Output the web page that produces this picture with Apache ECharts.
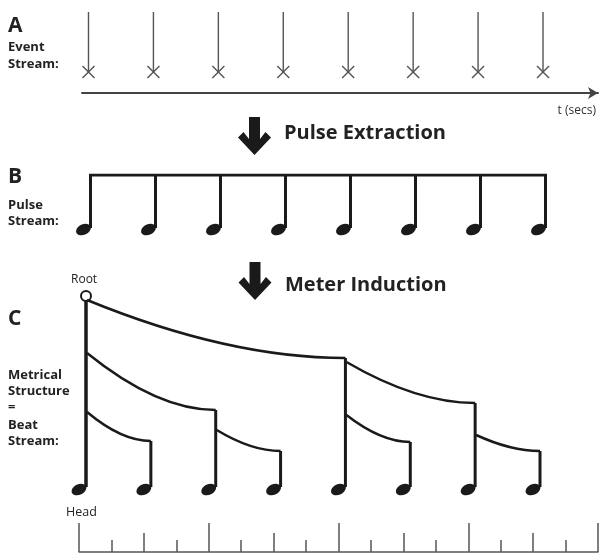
<!DOCTYPE html>
<html>
<head>
<meta charset="utf-8">
<script src="https://cdn.jsdelivr.net/npm/echarts@6/dist/echarts.min.js"></script>
<style>
html,body{margin:0;padding:0;background:#fff;}
#chart{width:605px;height:554px;}
</style>
</head>
<body>
<div id="chart"></div>
<script>
// ---------------- data ----------------
// A: detected event onsets (in beat units)
const eventTimes = [0, 1, 2, 3, 4, 5, 6, 7];
// B: extracted pulse positions (beat units)
const pulseTimes = [0, 1, 2, 3, 4, 5, 6, 7];
// C: metrical tree – beat positions, parent beat, stem-top height, branch height on parent stem
const beatTimes    = [0, 1, 2, 3, 4, 5, 6, 7];
const beatParent   = [null, 0, 0, 2, 0, 4, 4, 6];
const beatStemTop  = [191, 46, 77, 36, 129, 45, 84, 36];
const beatBranchAt = [null, 75, 134, 57, 187, 72, 125, 52];
// bottom ruler: tick intervals in beats (long, medium, short)
const rulerIntervals = [2, 1, 0.5];
const rulerTickLengths = [29, 19, 12];
const rulerRange = [0, 8];

const INK = '#1a1a1a';
const GREY = '#555';
const FONT = 'Open Sans';

const chart = echarts.init(document.getElementById('chart'), null, {renderer: 'canvas'});

function noteHead(x, y) {
  return {type: 'ellipse', x: x - 5.5, y: y + 1.5, rotation: 0.45,
          shape: {cx: 0, cy: 0, rx: 7.8, ry: 5.3}, style: {fill: INK}};
}

const rulerAxes = rulerIntervals.map((iv, i) => ({
  gridIndex: 3, type: 'value', position: 'bottom', min: rulerRange[0], max: rulerRange[1], interval: iv,
  axisLine: {show: i === 0, onZero: false, lineStyle: {color: GREY, width: 1.5}},
  axisTick: {show: true, inside: true, length: rulerTickLengths[i], lineStyle: {color: GREY, width: 1.5}},
  axisLabel: {show: false}, splitLine: {show: false}
}));

const txt = (text, x, y, size, weight, extra) => Object.assign({
  type: 'text', x: x, y: y,
  style: {text: text, fill: '#222', font: (weight || 'bold') + ' ' + size + 'px "' + FONT + '"',
          textVerticalAlign: 'middle'}
}, extra || {});

function bigArrow(cx, y0, tip) {
  return {type: 'polygon', shape: {points: [
    [cx - 5.5, y0], [cx + 5.5, y0], [cx + 5.5, tip - 16], [cx + 11, tip - 23], [cx + 16.5, tip - 17.5],
    [cx, tip], [cx - 16.5, tip - 17.5], [cx - 11, tip - 23], [cx - 5.5, tip - 16]
  ]}, style: {fill: INK}};
}

const option = {
  animation: false,
  backgroundColor: '#fff',
  grid: [
    {left: 82, right: 7, top: 12, height: 60},
    {left: 90.5, right: 59.5, top: 175, height: 53},
    {left: 86, right: 65, top: 296, height: 191},
    {left: 79, right: 7, top: 523, height: 29}
  ],
  xAxis: [
    {gridIndex: 0, type: 'value', min: -0.1, max: 7.847, offset: 21, position: 'bottom',
     axisLine: {show: true, onZero: false, symbol: ['none', 'arrow'], symbolSize: [9, 10], symbolOffset: [0, 0],
                lineStyle: {color: '#444', width: 2}},
     axisTick: {show: false}, axisLabel: {show: false}, splitLine: {show: false},
     name: 't (secs)', nameLocation: 'end', nameGap: -2,
     nameTextStyle: {align: 'right', verticalAlign: 'top', padding: [12, 0, 0, 0],
                     fontFamily: FONT, fontSize: 12, color: '#333'}},
    {gridIndex: 1, type: 'value', min: 0, max: 7, show: false},
    {gridIndex: 2, type: 'value', min: 0, max: 7, show: false}
  ].concat(rulerAxes),
  yAxis: [
    {gridIndex: 0, type: 'value', min: 0, max: 1, show: false},
    {gridIndex: 1, type: 'value', min: 0, max: 1, show: false},
    {gridIndex: 2, type: 'value', min: 0, max: 191, show: false},
    {gridIndex: 3, type: 'value', min: 0, max: 1, show: false}
  ],
  series: [
    // A: event stream
    {type: 'custom', xAxisIndex: 0, yAxisIndex: 0, clip: false,
     data: eventTimes.map(t => [t]),
     renderItem: function (params, api) {
       const t = api.value(0);
       const top = api.coord([t, 1]);
       const bot = api.coord([t, 0]);
       const s = 6;
       const ls = {stroke: GREY, lineWidth: 1.4};
       return {type: 'group', children: [
         {type: 'line', shape: {x1: top[0], y1: top[1], x2: bot[0], y2: bot[1]}, style: ls},
         {type: 'line', shape: {x1: bot[0] - s, y1: bot[1] - s, x2: bot[0] + s, y2: bot[1] + s}, style: ls},
         {type: 'line', shape: {x1: bot[0] - s, y1: bot[1] + s, x2: bot[0] + s, y2: bot[1] - s}, style: ls}
       ]};
     }},
    // B: beam
    {type: 'line', xAxisIndex: 1, yAxisIndex: 1, symbol: 'none', silent: true,
     data: [[pulseTimes[0], 1], [pulseTimes[pulseTimes.length - 1], 1]],
     lineStyle: {color: INK, width: 3, cap: 'square'}},
    // B: pulse notes
    {type: 'custom', xAxisIndex: 1, yAxisIndex: 1, clip: false,
     data: pulseTimes.map(t => [t]),
     renderItem: function (params, api) {
       const t = api.value(0);
       const top = api.coord([t, 1]);
       const bot = api.coord([t, 0]);
       return {type: 'group', children: [
         {type: 'line', shape: {x1: top[0], y1: top[1], x2: bot[0], y2: bot[1]}, style: {stroke: INK, lineWidth: 3}},
         noteHead(bot[0] - 1.5, bot[1])
       ]};
     }},
    // C: metrical tree
    {type: 'custom', xAxisIndex: 2, yAxisIndex: 2, clip: false,
     data: beatTimes.map((t, i) => [t, beatParent[i] === null ? -1 : beatTimes[beatParent[i]], beatStemTop[i],
                                    beatBranchAt[i] === null ? -1 : beatBranchAt[i]]),
     renderItem: function (params, api) {
       const t = api.value(0), pt = api.value(1), top = api.value(2), br = api.value(3);
       const pTop = api.coord([t, top]);
       const pBot = api.coord([t, 0]);
       const children = [];
       if (pt >= 0) {
         const p0 = api.coord([pt, br]);
         children.push({type: 'bezierCurve', shape: {
           x1: p0[0] + 1, y1: p0[1], x2: pTop[0], y2: pTop[1],
           cpx1: p0[0] + 0.55 * (pTop[0] - p0[0]), cpy1: pTop[1]},
           style: {stroke: INK, lineWidth: 2.5, fill: null}});
       }
       children.push({type: 'line', shape: {x1: pTop[0], y1: pTop[1], x2: pBot[0], y2: pBot[1]},
                      style: {stroke: INK, lineWidth: pt >= 0 ? 3 : 3.5}});
       children.push(noteHead(pBot[0] - 1.5, pBot[1] + 1));
       if (pt < 0) {
         children.push({type: 'circle', shape: {cx: pTop[0], cy: pTop[1], r: 5},
                        style: {fill: '#fff', stroke: INK, lineWidth: 2}});
       }
       return {type: 'group', children: children};
     }}
  ],
  graphic: [
    txt('A', 8, 26, 21),
    txt('Event', 8, 47, 13),
    txt('Stream:', 8, 64, 13),
    bigArrow(254.5, 117, 155),
    txt('Pulse Extraction', 284, 133, 20),
    txt('B', 8, 177, 21),
    txt('Pulse', 8, 205, 13),
    txt('Stream:', 8, 221, 13),
    bigArrow(255, 262, 300),
    txt('Meter Induction', 285, 285, 20),
    txt('Root', 71, 280, 12, 'normal'),
    txt('C', 8, 319, 21),
    txt('Metrical', 8, 375, 13),
    txt('Structure', 8, 391, 13),
    txt('=', 8, 407, 13),
    txt('Beat', 8, 425, 13),
    txt('Stream:', 8, 441, 13),
    txt('Head', 66, 512, 12.5, 'normal')
  ]
};
chart.setOption(option);
</script>
</body>
</html>
